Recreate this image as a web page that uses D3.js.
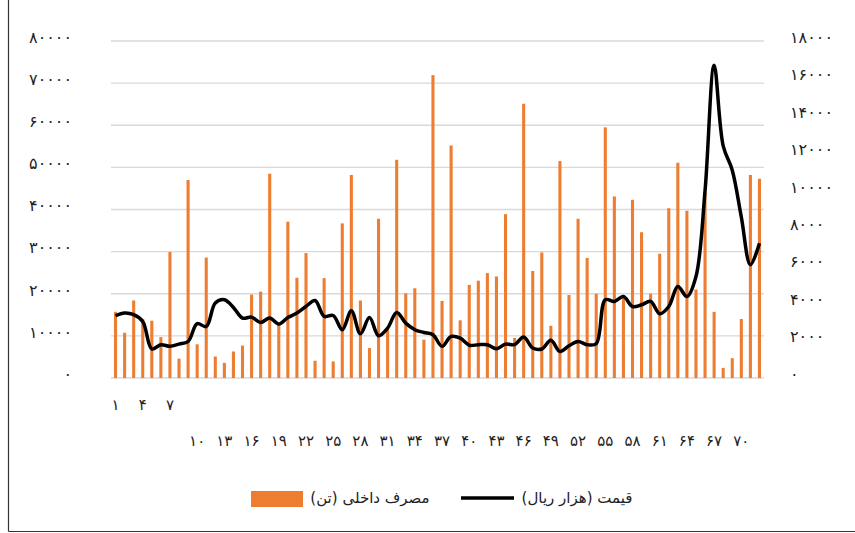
<!DOCTYPE html>
<html>
<head>
<meta charset="utf-8">
<script src="https://cdn.jsdelivr.net/npm/d3@7"></script>
<style>
  body { margin: 0; background: #fff; }
  text { font-family: "DejaVu Sans", sans-serif; }
</style>
</head>
<body>
<div class="chart"></div>
<script>
// categories 1..72
const categories = d3.range(1, 73)

// مصرف داخلی (تن) - left axis
const consumption = [
  15700, 10750, 18400, 14000, 13600, 9700, 29900, 4600, 47000, 8000,
  28600, 5100, 3600, 6300, 7700, 19800, 20500, 48500, 13000, 37100,
  23800, 29650, 4100, 23700, 3940, 36700, 48200, 18400, 7100, 37800,
  12000, 51800, 20100, 21300, 9100, 71900, 18300, 55200, 13700, 22100,
  23100, 24900, 24100, 38900, 9500, 65100, 25400, 29800, 12400, 51500,
  19700, 37800, 28500, 20000, 59500, 43100, 19300, 42300, 34600, 20000,
  29500, 40300, 51100, 39700, 21000, 44000, 15700, 2400, 4700, 14000,
  48200, 47300
]

// قیمت (هزار ریال) - right axis
const price = [
  3325, 3470, 3380, 3020, 1550, 1780, 1690, 1810, 1950, 2900,
  2750, 4000, 4180, 3770, 3200, 3250, 2970, 3200, 2880, 3230,
  3470, 3820, 4140, 3290, 3340, 2580, 3590, 2360, 3230, 2260,
  2670, 3500, 2930, 2580, 2430, 2310, 1690, 2220, 2130, 1750,
  1780, 1780, 1560, 1810, 1780, 2190, 1600, 1550, 2010, 1420,
  1720, 1950, 1780, 1830, 4180, 4090, 4350, 3820, 3910, 4090,
  3430, 3820, 4890, 4350, 5420, 10000, 16700, 12400, 11100, 8600,
  6050, 7200
]

const leftTicks = [0, 10000, 20000, 30000, 40000, 50000, 60000, 70000, 80000]
const rightTicks = [0, 2000, 4000, 6000, 8000, 10000, 12000, 14000, 16000, 18000]

const barLabel = 'مصرف داخلی (تن)'
const lineLabel = 'قیمت (هزار ریال)'

const fa = s => String(s).replace(/\d/g, d => '۰۱۲۳۴۵۶۷۸۹'[d])

const W = 855, H = 533
const margin = {top: 41, right: 91, bottom: 155, left: 111}
const width = W - margin.left - margin.right
const height = H - margin.top - margin.bottom

const root = d3.select('.chart').append('svg')
    .attr('width', W)
    .attr('height', H)

// chart area frame (left + bottom edges visible)
root.append('line')
    .attr('x1', 8.5).attr('x2', 8.5).attr('y1', 0).attr('y2', 531.5)
    .attr('stroke', '#333').attr('stroke-width', 1.2)
root.append('line')
    .attr('x1', 8.5).attr('x2', W).attr('y1', 531.5).attr('y2', 531.5)
    .attr('stroke', '#333').attr('stroke-width', 1.2)

const svg = root.append('g')
    .attr('transform', 'translate(' + margin.left + ',' + margin.top + ')')

const x = d3.scaleBand()
    .domain(categories)
    .range([0, width])
    .paddingInner(0.66)
    .paddingOuter(0.33)

const y = d3.scaleLinear().domain([0, 80000]).range([height, 0])
const y2 = d3.scaleLinear().domain([0, 18000]).range([height, 0])

// gridlines
svg.append('g')
    .selectAll('line')
    .data(leftTicks)
    .enter()
    .append('line')
    .attr('x1', 0).attr('x2', width)
    .attr('y1', d => y(d)).attr('y2', d => y(d))
    .attr('stroke', '#d9d9d9')
    .attr('stroke-width', 1.3)

// left axis
svg.append('g')
    .attr('class', 'y axis')
    .call(d3.axisLeft(y).tickValues(leftTicks).tickSize(0).tickPadding(39).tickFormat(fa))
    .call(g => g.select('.domain').remove())
    .selectAll('text')
    .attr('dy', '0.08em')
    .style('font-size', '16px')
    .attr('fill', '#222')

// right axis
svg.append('g')
    .attr('class', 'y2 axis')
    .attr('transform', 'translate(' + width + ',0)')
    .call(d3.axisRight(y2).tickValues(rightTicks).tickSize(0).tickPadding(26).tickFormat(fa))
    .call(g => g.select('.domain').remove())
    .selectAll('text')
    .attr('dy', '0.08em')
    .style('font-size', '16px')
    .attr('fill', '#222')

// bars
svg.selectAll('rect.bar')
    .data(consumption)
    .enter()
    .append('rect')
    .attr('class', 'bar')
    .attr('x', (d, i) => x(categories[i]))
    .attr('width', x.bandwidth())
    .attr('y', d => y(d))
    .attr('height', d => height - y(d))
    .attr('fill', '#ED7D31')

// price line
const line = d3.line()
    .x((d, i) => x(categories[i]) + x.bandwidth() / 2)
    .y(d => y2(d))
    .curve(d3.curveCatmullRom.alpha(0.5))

svg.append('path')
    .datum(price)
    .attr('d', line)
    .attr('fill', 'none')
    .attr('stroke', '#000')
    .attr('stroke-width', 3.5)
    .attr('stroke-linejoin', 'round')

// category labels, every third one
svg.append('g')
    .selectAll('text')
    .data(categories.filter((d, i) => i % 3 === 0))
    .enter()
    .append('text')
    .attr('x', d => x(d) + x.bandwidth() / 2)
    .attr('y', d => d < 10 ? 364 : 400)
    .attr('dy', '0.35em')
    .attr('text-anchor', 'middle')
    .style('font-size', '15px')
    .attr('fill', '#222')
    .text(d => fa(d))

// legend
const lg = root.append('g')
lg.append('rect')
    .attr('x', 251).attr('y', 491).attr('width', 52).attr('height', 16)
    .attr('fill', '#ED7D31')
lg.append('text')
    .attr('x', 370).attr('y', 498).attr('dy', '0.35em')
    .attr('text-anchor', 'middle')
    .attr('direction', 'rtl')
    .style('font-size', '15px')
    .attr('fill', '#222')
    .text(barLabel)
lg.append('line')
    .attr('x1', 461).attr('x2', 514).attr('y1', 498).attr('y2', 498)
    .attr('stroke', '#000').attr('stroke-width', 3.5)
lg.append('text')
    .attr('x', 577).attr('y', 498).attr('dy', '0.35em')
    .attr('text-anchor', 'middle')
    .attr('direction', 'rtl')
    .style('font-size', '15px')
    .attr('fill', '#222')
    .text(lineLabel)
</script>
</body>
</html>
